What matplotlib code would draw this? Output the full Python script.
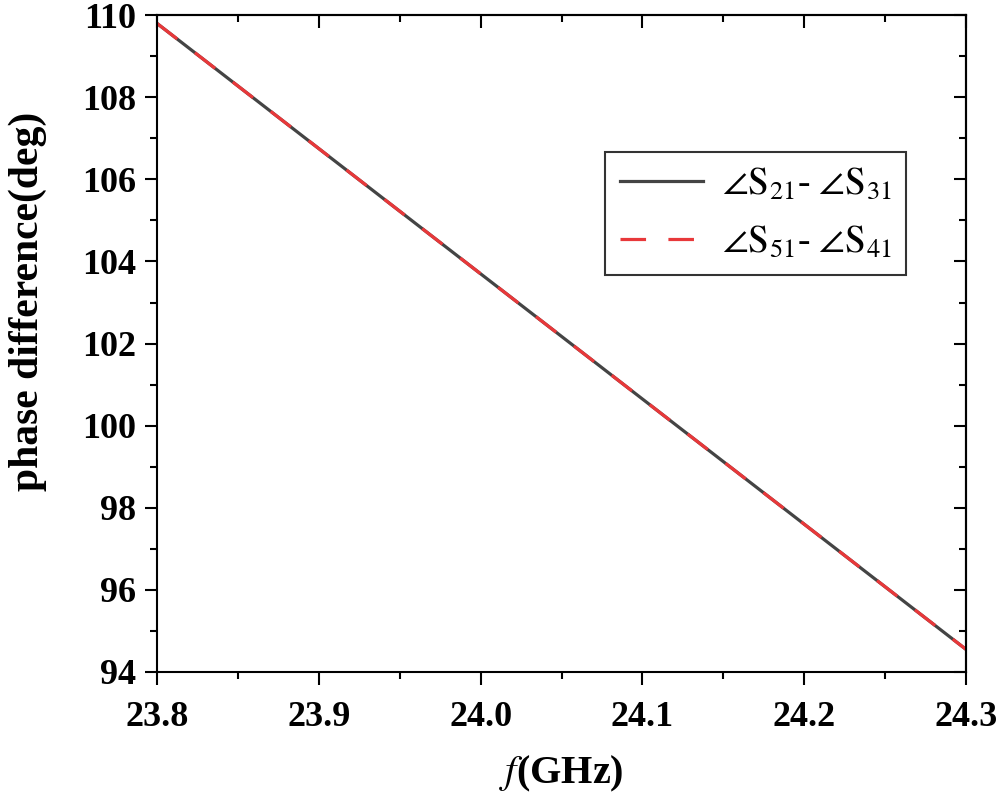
import matplotlib
matplotlib.use("Agg")
import matplotlib.pyplot as plt
from matplotlib.ticker import MultipleLocator

# frequency (GHz) and phase differences (deg)
freq = [23.8, 23.9, 24.0, 24.1, 24.2, 24.3]
phase_21_31 = [109.8, 106.75, 103.7, 100.65, 97.6, 94.55]
phase_51_41 = [109.8, 106.75, 103.7, 100.65, 97.6, 94.55]
xticks = [23.8, 23.9, 24.0, 24.1, 24.2, 24.3]
yticks = [94, 96, 98, 100, 102, 104, 106, 108, 110]

plt.rcParams['font.family'] = ['Liberation Serif', 'DejaVu Serif']
plt.rcParams['mathtext.fontset'] = 'stix'

fig = plt.figure(figsize=(10, 7.99), dpi=100)
ax = fig.add_axes([0.157, 0.159, 0.809, 0.822])

ax.plot(freq, phase_21_31, color='#444444', lw=2.3, label=r'$\angle\mathrm{S}_{21}$- $\angle\mathrm{S}_{31}$')
ax.plot(freq, phase_51_41, color='#e8383a', lw=2.3, dashes=(8, 7),
        label=r'$\angle\mathrm{S}_{51}$- $\angle\mathrm{S}_{41}$')

ax.set_xlim(23.8, 24.3)
ax.set_ylim(94, 110)
ax.set_xticks(xticks)
ax.set_xticklabels(['%.1f' % v for v in xticks])
ax.set_yticks(yticks)
ax.xaxis.set_minor_locator(MultipleLocator(0.05))
ax.yaxis.set_minor_locator(MultipleLocator(1))

for s in ax.spines.values():
    s.set_linewidth(1.5)
ax.tick_params(which='both', direction='out', width=1.5, top=False, right=False)
ax.tick_params(which='major', length=9, labelsize=26)
ax.tick_params(axis='x', which='major', pad=12)
ax.tick_params(axis='y', which='major', pad=6)
ax.tick_params(which='minor', length=5)
for lab in ax.get_xticklabels() + ax.get_yticklabels():
    lab.set_fontweight('bold')

# inward ticks mirrored on top and right
top = ax.secondary_xaxis('top')
top.set_xticks(xticks)
top.xaxis.set_minor_locator(MultipleLocator(0.05))
top.xaxis.set_ticklabels([])
right = ax.secondary_yaxis('right')
right.set_yticks(yticks)
right.yaxis.set_minor_locator(MultipleLocator(1))
right.yaxis.set_ticklabels([])
for twin in (top, right):
    twin.tick_params(which='both', direction='in', width=1.5)
    twin.tick_params(which='major', length=9)
    twin.tick_params(which='minor', length=5)
    for s in twin.spines.values():
        s.set_linewidth(1.5)

ax.set_xlabel(r'$\mathit{f}$(GHz)', fontsize=29, fontweight='bold', labelpad=14)
ax.set_ylabel('phase difference(deg)', fontsize=30, fontweight='bold')
ax.yaxis.set_label_coords(-0.136, 0.565)

leg = ax.legend(loc='upper right', bbox_to_anchor=(0.926, 0.792), fontsize=27,
                frameon=True, fancybox=False, edgecolor='black',
                handlelength=2.2, borderpad=0.4, labelspacing=0.6, handletextpad=0.5,
                borderaxespad=0)
leg.get_frame().set_linewidth(1.5)

plt.savefig('out.png', dpi=100)
